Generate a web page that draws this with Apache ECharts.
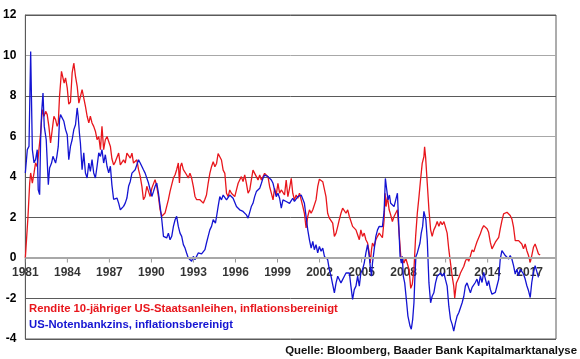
<!DOCTYPE html>
<html><head><meta charset="utf-8">
<script src="https://cdn.jsdelivr.net/npm/echarts@6/dist/echarts.min.js"></script>
<style>html,body{margin:0;padding:0;background:#fff}#c{width:580px;height:359px}</style>
</head><body><div id="c"></div>
<script>
const BASE_YEAR = 1981;
const AXIS_END_YEAR = 2018.88;
const tickYears = [1981, 1984, 1987, 1990, 1993, 1996, 1999, 2002, 2005, 2008, 2011, 2014, 2017];
const yTicks = [-4, -2, 0, 2, 4, 6, 8, 10, 12];
const redName = 'Rendite 10-jähriger US-Staatsanleihen, inflationsbereinigt';
const blueName = 'US-Notenbankzins, inflationsbereinigt';
const sourceText = 'Quelle: Bloomberg, Baader Bank Kapitalmarktanalyse';

const redYears = [1981.00,1981.19,1981.31,1981.38,1981.50,1981.62,1981.73,1981.85,1981.97,1982.09,1982.21,1982.33,1982.45,1982.56,1982.68,1982.80,1982.92,1983.04,1983.16,1983.27,1983.35,1983.44,1983.58,1983.68,1983.77,1983.87,1983.99,1984.10,1984.22,1984.34,1984.46,1984.58,1984.70,1984.82,1984.93,1985.05,1985.17,1985.29,1985.41,1985.53,1985.64,1985.76,1985.88,1986.00,1986.12,1986.24,1986.36,1986.47,1986.59,1986.71,1986.83,1986.95,1987.07,1987.18,1987.30,1987.42,1987.66,1987.78,1987.89,1988.01,1988.13,1988.25,1988.37,1988.49,1988.61,1988.72,1988.84,1988.96,1989.08,1989.20,1989.32,1989.43,1989.55,1989.67,1989.79,1989.91,1990.03,1990.15,1990.26,1990.38,1990.50,1990.62,1990.74,1990.86,1990.97,1991.09,1991.21,1991.33,1991.45,1991.57,1991.69,1991.80,1991.92,1992.00,1992.07,1992.16,1992.28,1992.40,1992.51,1992.63,1992.75,1992.87,1992.99,1993.11,1993.23,1993.34,1993.46,1993.58,1993.70,1993.82,1993.93,1994.05,1994.17,1994.29,1994.41,1994.53,1994.65,1994.76,1994.88,1995.00,1995.12,1995.24,1995.36,1995.48,1995.59,1995.71,1995.83,1995.95,1996.07,1996.19,1996.30,1996.42,1996.54,1996.66,1996.78,1996.90,1997.02,1997.13,1997.25,1997.37,1997.49,1997.61,1997.73,1997.85,1997.96,1998.08,1998.20,1998.32,1998.44,1998.56,1998.68,1998.79,1998.91,1999.03,1999.15,1999.27,1999.39,1999.50,1999.62,1999.74,1999.86,1999.98,2000.09,2000.21,2000.33,2000.45,2000.57,2000.69,2000.81,2000.92,2001.04,2001.16,2001.28,2001.40,2001.52,2001.63,2001.75,2001.87,2001.99,2002.11,2002.23,2002.35,2002.46,2002.58,2002.70,2002.82,2002.94,2003.06,2003.18,2003.30,2003.41,2003.53,2003.65,2003.77,2003.89,2004.01,2004.13,2004.24,2004.36,2004.48,2004.60,2004.72,2004.84,2004.95,2005.07,2005.19,2005.31,2005.43,2005.55,2005.62,2005.71,2005.78,2005.90,2006.02,2006.14,2006.26,2006.37,2006.49,2006.61,2006.68,2006.75,2006.85,2006.97,2007.08,2007.20,2007.32,2007.44,2007.56,2007.68,2007.80,2007.91,2008.03,2008.15,2008.27,2008.39,2008.51,2008.62,2008.74,2008.86,2008.98,2009.10,2009.21,2009.33,2009.45,2009.50,2009.57,2009.69,2009.81,2009.93,2010.04,2010.16,2010.28,2010.40,2010.52,2010.64,2010.76,2010.88,2010.99,2011.11,2011.23,2011.35,2011.47,2011.58,2011.65,2011.77,2011.94,2012.06,2012.18,2012.30,2012.41,2012.53,2012.65,2012.77,2012.89,2013.01,2013.12,2013.24,2013.36,2013.48,2013.60,2013.72,2013.84,2013.96,2014.07,2014.19,2014.31,2014.43,2014.55,2014.67,2014.79,2014.90,2015.02,2015.14,2015.26,2015.38,2015.50,2015.61,2015.73,2015.85,2015.97,2016.09,2016.21,2016.33,2016.44,2016.56,2016.68,2016.80,2016.92,2017.04,2017.15,2017.27,2017.39,2017.51,2017.63,2017.75];
const redValues = [0.0,2.06,3.7,4.2,3.7,4.2,4.7,4.5,5.35,6.17,7.33,7.0,7.24,7.08,6.5,5.68,6.34,7.0,6.83,6.5,6.67,7.98,9.22,9.3,8.64,8.89,8.4,7.6,7.7,9.14,9.63,8.97,8.48,7.65,7.65,8.31,8.23,7.49,7.0,6.67,7.0,6.67,6.5,6.26,5.84,6.0,5.35,6.5,5.35,5.84,6.0,6.09,5.51,4.9,4.6,4.75,5.18,4.6,4.52,4.85,4.69,5.18,5.18,4.93,5.18,4.69,4.77,4.85,4.36,4.03,3.54,2.88,3.04,3.54,3.29,3.04,3.45,3.54,3.87,3.54,3.04,2.38,2.06,1.97,2.22,2.55,2.88,3.29,3.62,3.95,4.11,4.36,4.69,3.7,4.52,4.69,4.36,4.36,4.11,3.95,4.19,3.95,3.54,3.04,2.88,2.96,2.88,2.9,2.71,2.9,3.11,3.69,4.18,4.51,4.75,4.51,4.67,5.16,5.2,4.84,4.34,4.18,3.2,3.03,3.36,3.2,3.28,3.03,3.36,3.69,3.85,4.02,3.77,4.1,3.69,3.2,3.36,3.85,4.34,4.43,4.02,3.85,4.1,3.85,3.93,4.18,4.26,4.02,3.52,3.2,2.87,3.44,3.11,3.69,3.2,3.36,3.44,3.11,3.85,3.03,3.44,3.93,3.2,2.87,3.11,2.95,3.2,2.87,2.54,2.21,1.48,2.05,2.38,2.21,2.38,2.3,2.87,3.52,3.89,3.85,3.77,3.69,3.03,2.21,1.97,1.89,1.72,1.07,1.23,1.56,1.89,2.21,2.46,2.38,2.21,2.38,2.05,2.13,1.56,1.48,1.39,1.15,0.9,1.39,1.07,1.23,0.9,0.74,0.25,-0.25,0.41,0.74,0.57,0.9,1.07,1.23,1.2,1.0,1.89,3.2,2.54,3.03,2.38,2.13,1.8,2.05,2.13,2.38,1.23,0.08,-0.08,-0.25,0.0,0.08,-0.57,-1.5,-1.3,-0.57,1.07,2.21,3.03,3.85,4.67,5.0,5.49,5.0,3.69,2.38,1.39,1.07,1.39,1.56,1.8,1.56,1.8,1.64,1.8,1.72,1.23,0.41,-0.25,-0.9,-1.39,-1.97,-1.23,-0.98,-0.74,-0.66,-0.41,-0.16,0.0,-0.16,0.1,0.4,0.3,0.55,0.8,1.0,1.2,1.44,1.6,1.52,1.44,1.27,0.78,0.45,0.61,0.78,0.86,1.02,1.44,1.85,2.18,2.26,2.26,2.18,2.1,1.93,1.52,0.86,0.78,0.86,0.78,0.69,0.45,0.69,0.36,0.12,-0.21,0.12,0.53,0.69,0.45,0.2,0.15];

const blueYears = [1981.00,1981.14,1981.26,1981.38,1981.50,1981.62,1981.73,1981.85,1981.92,1982.02,1982.09,1982.16,1982.26,1982.35,1982.49,1982.64,1982.73,1982.87,1982.97,1983.06,1983.16,1983.25,1983.35,1983.44,1983.51,1983.63,1983.75,1983.87,1983.99,1984.10,1984.22,1984.34,1984.46,1984.58,1984.70,1984.77,1984.86,1984.93,1985.05,1985.17,1985.29,1985.41,1985.53,1985.64,1985.76,1985.88,1986.00,1986.12,1986.24,1986.36,1986.47,1986.59,1986.71,1986.83,1986.95,1987.07,1987.18,1987.30,1987.42,1987.54,1987.66,1987.78,1987.89,1988.01,1988.13,1988.25,1988.37,1988.49,1988.61,1988.72,1988.84,1988.96,1989.08,1989.20,1989.32,1989.43,1989.55,1989.67,1989.79,1989.91,1990.03,1990.15,1990.26,1990.38,1990.50,1990.62,1990.74,1990.86,1990.97,1991.09,1991.21,1991.33,1991.45,1991.57,1991.69,1991.80,1991.92,1992.04,1992.16,1992.28,1992.40,1992.51,1992.63,1992.75,1992.87,1992.99,1993.11,1993.23,1993.34,1993.46,1993.58,1993.70,1993.82,1993.93,1994.05,1994.17,1994.29,1994.41,1994.53,1994.57,1994.65,1994.76,1994.88,1995.00,1995.12,1995.24,1995.36,1995.48,1995.59,1995.71,1995.83,1995.95,1996.07,1996.19,1996.30,1996.42,1996.54,1996.66,1996.78,1996.90,1997.02,1997.13,1997.25,1997.37,1997.49,1997.61,1997.73,1997.85,1997.96,1998.08,1998.20,1998.32,1998.44,1998.56,1998.68,1998.79,1998.91,1999.03,1999.15,1999.27,1999.39,1999.50,1999.62,1999.74,1999.86,1999.98,2000.09,2000.21,2000.33,2000.45,2000.57,2000.69,2000.81,2000.92,2001.04,2001.16,2001.28,2001.40,2001.52,2001.63,2001.75,2001.87,2001.99,2002.11,2002.23,2002.35,2002.46,2002.58,2002.70,2002.82,2002.94,2003.06,2003.18,2003.30,2003.41,2003.53,2003.65,2003.77,2003.89,2004.01,2004.13,2004.24,2004.36,2004.48,2004.60,2004.72,2004.84,2004.95,2005.07,2005.19,2005.31,2005.43,2005.55,2005.62,2005.71,2005.78,2005.90,2006.02,2006.14,2006.26,2006.37,2006.49,2006.61,2006.70,2006.80,2006.89,2006.99,2007.08,2007.20,2007.32,2007.44,2007.56,2007.63,2007.75,2007.84,2007.91,2007.98,2008.08,2008.22,2008.31,2008.46,2008.55,2008.65,2008.74,2008.81,2008.88,2008.98,2009.05,2009.17,2009.26,2009.36,2009.45,2009.52,2009.59,2009.69,2009.81,2009.93,2010.04,2010.16,2010.28,2010.40,2010.52,2010.64,2010.76,2010.88,2010.99,2011.11,2011.23,2011.35,2011.47,2011.58,2011.70,2011.82,2011.94,2012.06,2012.18,2012.30,2012.41,2012.53,2012.65,2012.77,2012.89,2013.01,2013.12,2013.24,2013.36,2013.48,2013.60,2013.72,2013.84,2013.96,2014.07,2014.19,2014.31,2014.43,2014.55,2014.67,2014.79,2014.90,2015.02,2015.14,2015.26,2015.38,2015.50,2015.61,2015.73,2015.85,2015.97,2016.09,2016.21,2016.33,2016.44,2016.56,2016.68,2016.80,2016.92,2017.04,2017.15,2017.27,2017.39,2017.51,2017.63];
const blueValues = [4.2,5.35,5.51,10.2,5.35,4.7,4.86,5.35,3.37,3.13,5.84,7.16,8.15,6.5,5.84,3.62,4.44,4.69,5.02,4.94,4.69,5.02,5.51,6.83,7.08,7.08,6.75,6.34,6.09,4.86,5.51,5.84,6.34,6.58,7.41,7.0,6.17,5.68,4.36,5.19,4.2,3.95,4.69,4.28,4.86,4.2,3.95,4.53,5.19,5.02,5.35,4.69,5.1,4.53,4.2,4.53,3.6,2.9,2.9,2.96,2.71,2.38,2.47,2.55,2.71,2.96,3.54,3.78,4.19,4.11,4.36,4.28,4.85,4.69,4.52,4.36,4.19,4.11,3.7,3.37,3.04,3.29,3.54,3.7,3.21,2.55,1.89,1.07,1.07,0.99,1.23,0.9,1.07,1.56,1.89,2.06,1.56,1.23,1.07,0.66,0.49,0.25,0.0,0.08,-0.16,0.08,-0.08,0.0,0.25,0.16,0.2,0.25,0.41,0.74,1.07,1.39,1.56,1.89,1.97,1.72,2.05,2.54,3.03,2.87,3.11,3.03,2.87,2.95,3.11,3.2,2.95,2.87,2.54,2.46,2.38,2.38,2.3,2.21,2.13,1.97,2.05,2.54,2.7,3.03,3.28,3.36,3.44,3.69,3.93,4.1,4.18,4.02,3.93,3.85,3.69,3.36,3.03,3.2,2.95,2.46,2.87,2.95,2.79,2.87,2.7,2.83,2.95,2.79,2.79,3.03,2.95,3.11,3.03,2.7,2.05,1.39,0.9,0.49,0.82,0.41,0.66,0.25,0.57,0.33,0.49,0.08,0.16,-0.08,-0.57,-0.9,-1.31,-1.72,-1.23,-0.9,-0.98,-1.23,-1.15,-0.9,-0.74,-0.82,-0.74,-1.39,-2.05,-1.56,-1.39,-0.9,-1.39,-0.74,-0.57,-0.25,0.25,0.66,0.08,-0.41,-0.9,-0.25,0.41,1.07,1.39,1.56,1.64,1.55,2.3,3.93,3.36,2.87,3.11,2.7,2.62,2.54,2.62,3.2,2.05,0.08,-0.25,0.08,-0.9,-1.23,-2.21,-2.87,-3.36,-3.52,-3.03,-2.21,-0.9,0.08,0.25,0.16,0.74,1.23,1.56,2.3,2.38,1.89,0.9,-1.23,-2.21,-1.89,-1.72,-1.23,-0.9,-0.9,-0.74,-0.9,-0.74,-1.07,-1.39,-2.38,-3.03,-3.28,-3.61,-3.2,-2.87,-2.7,-2.62,-2.21,-1.89,-1.39,-1.23,-1.48,-1.72,-1.45,-1.45,-1.21,-1.04,-1.37,-0.88,-1.21,-0.71,-1.04,-1.37,-1.12,-1.54,-1.79,-1.79,-1.7,-1.37,-1.04,-0.05,0.36,0.28,0.12,0.2,-0.05,0.12,-0.05,-0.38,-0.79,-0.55,-0.88,-0.55,-0.63,-0.79,-1.04,-1.37,-1.62,-1.95,-1.21,-0.71,-0.38,-0.46,-0.96];

const toPairs = (xs, ys) => xs.map((x, i) => [+(x - BASE_YEAR).toFixed(3), ys[i]]);
const FONT = '"Liberation Sans", Arial, sans-serif';

const chart = echarts.init(document.getElementById('c'), null, {renderer: 'canvas'});
chart.setOption({
  animation: false,
  backgroundColor: '#ffffff',
  grid: {left: 23, right: 24, top: 15, bottom: 20, show: true, borderColor: '#5a5a5a', borderWidth: 1, containLabel: false},
  xAxis: {
    type: 'value', min: 0, max: +(AXIS_END_YEAR - BASE_YEAR).toFixed(2), interval: 3,
    axisLine: {show: false},
    axisTick: {show: false},
    axisLabel: {show: false},
    splitLine: {show: false}
  },
  yAxis: {
    type: 'value', min: yTicks[0], max: yTicks[yTicks.length - 1], interval: 2,
    axisLine: {show: true, onZero: false, lineStyle: {color: '#5a5a5a', width: 1}},
    axisTick: {show: false},
    splitLine: {show: true, lineStyle: {color: ['#5a5a5a','#5a5a5a','#a8a8a8','#5a5a5a','#5a5a5a','#a8a8a8','#5a5a5a','#a8a8a8','#5a5a5a'], width: 1}},
    axisLabel: {margin: 9, color: '#000', fontFamily: FONT, fontWeight: 'bold', fontSize: 12}
  },
  series: [
    {name: 'zeroAxis', type: 'scatter', silent: true, z: 2,
     data: tickYears.map(y => [y - BASE_YEAR, 0]),
     symbol: 'rect', symbolSize: [1, 4], symbolOffset: [0, 2.5],
     itemStyle: {color: '#7a7a7a'},
     label: {show: true, position: 'bottom', distance: 4, color: '#000', fontFamily: FONT, fontWeight: 'bold', fontSize: 12,
             formatter: p => String(Math.round(p.value[0]) + BASE_YEAR)},
     markLine: {silent: true, symbol: 'none', label: {show: false},
                lineStyle: {color: '#a8a8a8', width: 2, type: 'solid'}, data: [{yAxis: 0}]}},
    {name: redName, type: 'line', data: toPairs(redYears, redValues), showSymbol: false, symbol: 'none',
     lineStyle: {color: '#e8161c', width: 1.3}, z: 3},
    {name: blueName, type: 'line', data: toPairs(blueYears, blueValues), showSymbol: false, symbol: 'none',
     lineStyle: {color: '#1414d2', width: 1.3}, z: 4}
  ],
  graphic: [
    {type: 'text', left: 29, top: 303, style: {text: redName, fill: '#e8161c', font: 'bold 11.3px ' + FONT}},
    {type: 'text', left: 29, top: 319, style: {text: blueName, fill: '#1414d2', font: 'bold 11.3px ' + FONT}},
    {type: 'text', right: 3, top: 345, style: {text: sourceText, fill: '#111', font: 'bold 11.4px ' + FONT}}
  ]
});
</script>
</body></html>
